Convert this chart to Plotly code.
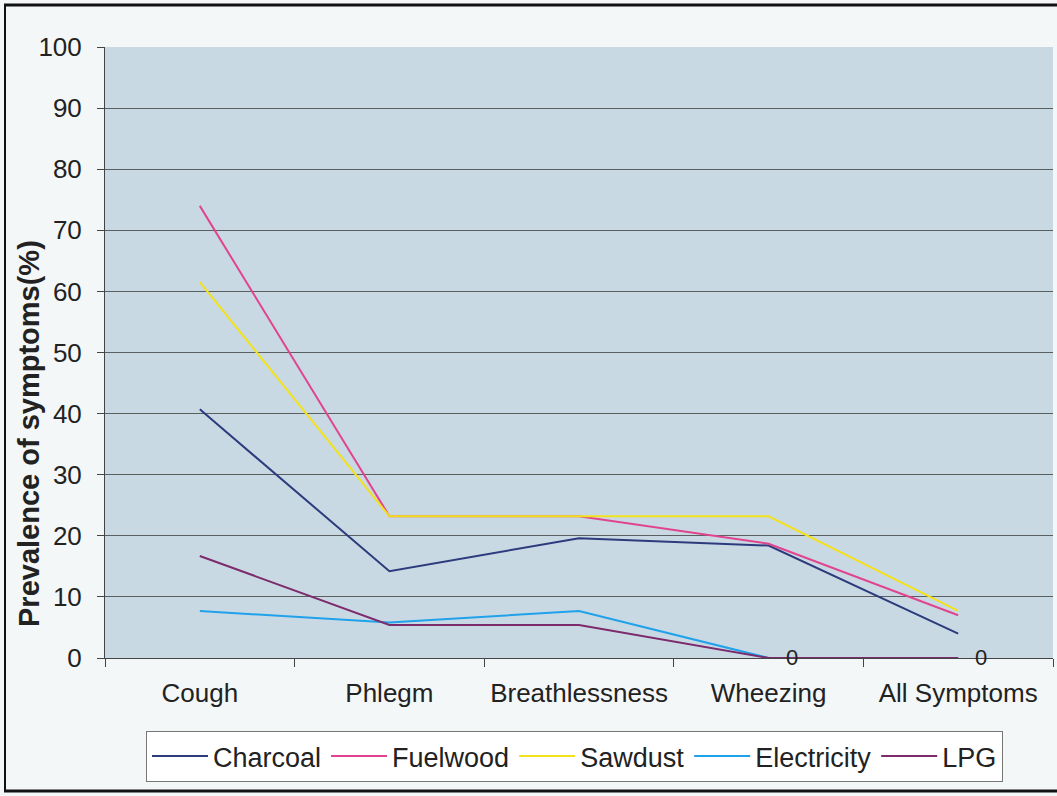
import plotly.graph_objects as go

# Respiratory symptom prevalence by household fuel type
symptoms = ["Cough", "Phlegm", "Breathlessness", "Wheezing", "All Symptoms"]
charcoal = [40.7, 14.2, 19.6, 18.4, 4.0]
fuelwood = [74.0, 23.2, 23.2, 18.7, 7.0]
sawdust = [61.5, 23.2, 23.2, 23.2, 7.7]
electricity = [7.7, 5.8, 7.7, 0, 0]
lpg = [16.7, 5.4, 5.4, 0, 0]
y_ticks = [0, 10, 20, 30, 40, 50, 60, 70, 80, 90, 100]

series = [
    ("Charcoal", charcoal, "#2c3b7c"),
    ("Fuelwood", fuelwood, "#e0448f"),
    ("Sawdust", sawdust, "#f2e21c"),
    ("Electricity", electricity, "#1fa2ea"),
    ("LPG", lpg, "#7c2b6c"),
]

FONT = "Liberation Sans, Arial, sans-serif"
W, H = 1057, 796
L, R, T, B = 105, 4, 47, 138
pw, ph = W - L - R, H - T - B


def px_x(v):
    return (v - L) / pw


def px_y(v):
    return 1 - (v - T) / ph


fig = go.Figure()
for name, vals, color in series:
    fig.add_trace(go.Scatter(
        x=symptoms, y=vals, name=name, mode="lines",
        line=dict(color=color, width=2),
    ))

# zero-value labels on the LPG series
for cat, v in zip(symptoms, lpg):
    if v == 0:
        fig.add_annotation(x=cat, y=v, text=f"{v:g}", showarrow=False,
                           xshift=23, yshift=1,
                           font=dict(family=FONT, size=22, color="#222"))

fig.update_layout(
    width=W, height=H,
    margin=dict(l=L, r=R, t=T, b=B),
    paper_bgcolor="#f4f7f8",
    plot_bgcolor="#c9d9e4",
    font=dict(family=FONT, color="#222"),
    showlegend=True,
    legend=dict(
        orientation="h", x=px_x(146), xanchor="left", y=px_y(731), yanchor="top",
        bgcolor="#ffffff", bordercolor="#777", borderwidth=1,
        font=dict(size=27, color="#222"),
        itemwidth=56, tracegroupgap=0,
    ),
    xaxis=dict(
        type="category", range=[-0.5, 4.5],
        showgrid=False, showline=True, linecolor="#444", linewidth=1,
        ticks="outside", tickson="boundaries", ticklen=8, tickcolor="#444",
        tickfont=dict(size=26, color="#222"), ticklabelstandoff=12,
        zeroline=False,
    ),
    yaxis=dict(
        range=[0, 100], tickvals=y_ticks,
        showgrid=True, gridcolor="#5a5f60", gridwidth=1,
        showline=True, linecolor="#444", linewidth=1,
        ticks="outside", ticklen=7, tickcolor="#444",
        tickfont=dict(size=26, color="#222"), ticklabelstandoff=10,
        zeroline=False,
    ),
)

# axis title
fig.add_annotation(xref="paper", yref="paper", x=px_x(29), y=px_y(434),
                   text="<b>Prevalence of symptoms(%)</b>", textangle=-90,
                   showarrow=False, xanchor="center", yanchor="middle",
                   font=dict(family=FONT, size=29, color="#222"))

# outer frame of the chart
frame = dict(xref="paper", yref="paper", type="line")
fig.add_shape(**frame, x0=px_x(4), x1=px_x(W), y0=px_y(5), y1=px_y(5),
              line=dict(color="#111", width=3))
fig.add_shape(**frame, x0=px_x(5), x1=px_x(5), y0=px_y(5), y1=px_y(791),
              line=dict(color="#111", width=2))
fig.add_shape(**frame, x0=px_x(4), x1=px_x(W), y0=px_y(791), y1=px_y(791),
              line=dict(color="#111", width=3))

fig.write_html("out.html")
